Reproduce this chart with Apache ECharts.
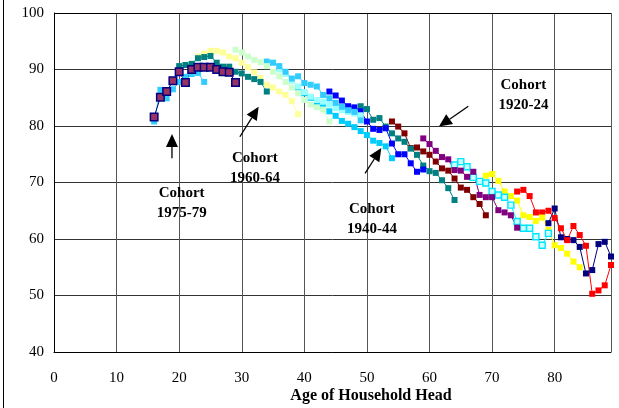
<!DOCTYPE html>
<html><head><meta charset="utf-8">
<script src="https://cdn.jsdelivr.net/npm/echarts@6/dist/echarts.min.js"></script>
<style>html,body{margin:0;padding:0;background:#fff}#c{width:619px;height:408px}</style>
</head><body><div id="c"></div>
<script>
// ---- data ----
const xTickLabels = [0,10,20,30,40,50,60,70,80];
const yTickLabels = [40,50,60,70,80,90,100];
const xTitle = 'Age of Household Head';

// start ages of each series (consecutive ages follow)
const start1900 = 79, start1905 = 74, start1910 = 69, start1915 = 64, start1920 = 59,
      start1925 = 54, start1930 = 49, start1935 = 44, start1940 = 39, start1945 = 34,
      startPale = 35, start1950 = 29, start1955 = 23, start1960 = 20, start1965 = 16, start1970 = 16;

const c1900 = [62.8,65.4,60.3,60.0,59.8,58.6,53.9,54.5,59.1,59.5,56.9];
const c1905 = [68.4,68.7,67.6,64.7,64.7,65.0,63.7,61.9,59.8,62.3,60.7,58.8,50.3,50.9,51.8,55.4];
const c1910 = [71.2,71.5,70.3,68.4,67.6,66.8,64.2,63.9,63.2,63.8,61.6,58.9,58.4,57.4,56.0,55.0];
const c1915 = [73.1,73.7,72.8,70.9,70.2,69.9,68.4,67.8,67.4,66.0,63.1,61.9,61.9,60.4,58.9,61.0];
const c1920 = [77.8,76.8,75.6,74.5,74.1,72.2,72.1,71.0,71.9,67.8,67.4,67.4,65.1,64.7,64.2,62.0];
const c1925 = [80.8,79.9,78.7,76.1,76.2,75.5,74.9,73.7,72.5,72.1,70.7,69.1,68.7,67.4,66.2,64.2];
const c1930 = [83.5,83.0,81.1,81.4,79.9,78.7,77.8,77.2,76.0,74.9,73.0,72.0,71.7,70.4,69.0,66.9];
const c1935 = [86.1,85.4,84.5,83.5,83.3,82.6,80.8,79.5,79.3,79.6,76.9,75.0,75.0,73.4,71.9,72.3];
const c1940 = [86.8,85.8,85.0,84.0,83.5,82.6,81.8,80.9,80.4,79.8,79.1,78.4,77.4,77.0,76.4,74.3];
const c1945 = [91.4,91.2,90.6,89.6,88.4,88.8,87.6,87.3,87.0,85.5,84.9,84.1,83.4,82.8,82.5,81.0];
const cPale = [91.2,90.0,89.2,88.0,87.0,86.0,85.2,84.6,84.3,83.8,83.2,82.8,82.5,82.2,81.9];
const c1950 = [93.5,93.0,92.3,91.7,91.3,90.6,89.6,88.8,87.8,86.8,85.8,84.6,83.8,83.3,82.9,80.8];
const c1955 = [92.3,92.8,93.3,93.3,93.0,92.3,92.0,91.2,90.4,89.5,88.5,87.3,86.8,86.1,85.5,84.4,82.1];
const c1960 = [90.6,90.8,91.0,92.0,92.2,92.4,91.2,90.5,90.5,89.6,89.3,88.7,88.3,87.8,86.1];
const c1970 = [80.8,86.4,84.9,86.5,87.8,88.7,89.2,89.4,87.8];
const c1965 = [81.6,85.1,86.1,88.0,89.6,87.7,90.0,90.4,90.4,90.4,90.0,89.6,89.5,87.7];

// annotations: label text, text centre [age, value], arrow tail and tip [age, value]
const annotLabels = [['Cohort','1975-79'],['Cohort','1960-64'],['Cohort','1940-44'],['Cohort','1920-24']];
const annotCentres = [[20.4,66.4],[32.1,72.6],[50.8,63.5],[75.0,85.5]];
const annotTails = [[18.85,74.3],[29.7,78.1],[49.7,71.6],[66.2,83.5]];
const annotTips  = [[18.85,78.6],[32.7,83.4],[52.3,76.1],[61.5,79.9]];

// ---- build ----
function pts(startAge, vals){ return vals.map((v,i)=>[startAge+i, v]); }
function ser(name, startAge, vals, line, fill, border, size, bw){
  return {
    name, type:'line', data: pts(startAge, vals),
    symbol:'rect', symbolSize: size || 6,
    lineStyle:{color: line, width:1},
    itemStyle:{color: fill || line, borderColor: border || fill || line, borderWidth: bw || 0},
    emphasis:{disabled:true}, animation:false, clip:true
  };
}
const series = [
  ser('1900-04', start1900, c1900, '#000080'),
  ser('1905-09', start1905, c1905, '#FF0000'),
  ser('1910-14', start1910, c1910, '#FFFF00'),
  ser('1915-19', start1915, c1915, '#00FFFF', '#CCFFFF', '#00E5FF', 6, 1.4),
  ser('1920-24', start1920, c1920, '#800080'),
  ser('1925-29', start1925, c1925, '#800000'),
  ser('1930-34', start1930, c1930, '#008080'),
  ser('1935-39', start1935, c1935, '#0000FF'),
  ser('1940-44', start1940, c1940, '#00CCFF'),
  ser('pale', startPale, cPale, '#99FFFF'),
  ser('1945-49', start1945, c1945, '#33CCFF'),
  ser('1950-54', start1950, c1950, '#CCFFCC'),
  ser('1955-59', start1955, c1955, '#FFFF99'),
  ser('1960-64', start1960, c1960, '#008080'),
  ser('1970-74', start1970, c1970, '#33CCFF'),
  ser('1965-69', start1965, c1965, '#000080', '#993366', '#000080', 7.5, 1.5)
];

const chart = echarts.init(document.getElementById('c'), null, {renderer:'canvas'});
const font = '"Liberation Serif","Times New Roman",serif';
chart.setOption({
  animation:false,
  backgroundColor:'#fff',
  grid:{left:54, right:8, top:13, bottom:56, containLabel:false},
  xAxis:{type:'value', min:0, max:89, interval:10,
    axisLine:{show:true, onZero:false, lineStyle:{color:'#000', width:1}},
    axisTick:{show:false},
    splitLine:{show:true, lineStyle:{color:'#555', width:1}},
    axisLabel:{margin:19, color:'#000', fontFamily:font, fontSize:15,
      formatter:v=> xTickLabels.indexOf(v)>=0 ? String(v) : ''}},
  yAxis:{type:'value', min:40, max:100, interval:10,
    axisLine:{show:true, lineStyle:{color:'#000', width:1}},
    axisTick:{show:false},
    splitLine:{show:true, lineStyle:{color:'#333', width:1}},
    axisLabel:{margin:10, color:'#000', fontFamily:font, fontSize:15,
      formatter:v=> yTickLabels.indexOf(v)>=0 ? String(v) : ''}},
  series
});

// annotations
const g = [];
g.push({type:'line', shape:{x1:3.5,y1:0,x2:3.5,y2:408}, style:{stroke:'#000', lineWidth:1}, silent:true});
g.push({type:'line', shape:{x1:54,y1:13.5,x2:611,y2:13.5}, style:{stroke:'#000', lineWidth:1}, silent:true});
g.push({type:'text', x:371, y:396, style:{text:xTitle, font:'bold 16px '+font, fill:'#000', textAlign:'center', textVerticalAlign:'middle'}, silent:true});
annotLabels.forEach((lab,i)=>{
  const c = chart.convertToPixel({gridIndex:0}, annotCentres[i]);
  g.push({type:'text', x:c[0], y:c[1]-10, style:{text:lab[0], font:'bold 15px '+font, fill:'#000', textAlign:'center', textVerticalAlign:'middle'}, silent:true});
  g.push({type:'text', x:c[0], y:c[1]+10, style:{text:lab[1], font:'bold 15px '+font, fill:'#000', textAlign:'center', textVerticalAlign:'middle'}, silent:true});
  const t = chart.convertToPixel({gridIndex:0}, annotTails[i]);
  const p = chart.convertToPixel({gridIndex:0}, annotTips[i]);
  const dx = p[0]-t[0], dy = p[1]-t[1], L = Math.hypot(dx,dy), ux = dx/L, uy = dy/L;
  const hl = 13, hw = 6;
  const bx = p[0]-ux*hl, by = p[1]-uy*hl;
  g.push({type:'line', shape:{x1:t[0],y1:t[1],x2:bx,y2:by}, style:{stroke:'#000', lineWidth:1.3}, silent:true});
  g.push({type:'polygon', shape:{points:[[p[0],p[1]],[bx-uy*hw,by+ux*hw],[bx+uy*hw,by-ux*hw]]}, style:{fill:'#000'}, silent:true});
});
chart.setOption({graphic:g});
</script>
</body></html>
